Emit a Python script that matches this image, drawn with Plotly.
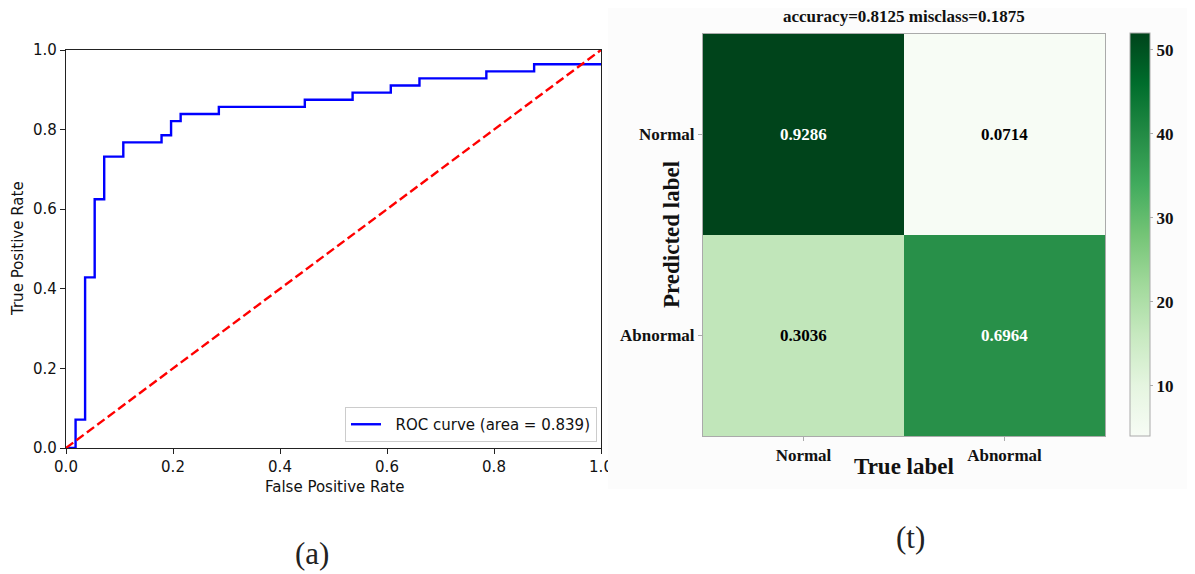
import plotly.graph_objects as go
import plotly.express as px

W, H = 1195, 574
OFF = 8  # page body margin of the host page

# ---------------- data ----------------
roc_fpr = [0.0, 0.0179, 0.0357, 0.0536, 0.0714, 0.1071, 0.1786, 0.1964, 0.2143,
           0.2857, 0.4464, 0.5357, 0.6071, 0.6607, 0.7857, 0.8750, 1.0]
roc_tpr = [0.0, 0.0714, 0.4286, 0.6250, 0.7321, 0.7679, 0.7857, 0.8214, 0.8393,
           0.8571, 0.8750, 0.8929, 0.9107, 0.9286, 0.9464, 0.9643, 0.9643]
chance_x = [0.0, 1.0]
chance_y = [0.0, 1.0]
roc_label = "ROC curve (area = 0.839)"
roc_ticks = [0.0, 0.2, 0.4, 0.6, 0.8, 1.0]

class_labels = ["Normal", "Abnormal"]
cm_counts = [[52, 4],
             [17, 39]]
cm_title = "accuracy=0.8125 misclass=0.1875"
cbar_ticks = [10, 20, 30, 40, 50]
cbar_range = [4, 52]

# ---------------- helpers ----------------
def px_x(p):
    return (p - OFF) / W

def px_y(p):
    return 1 - (p - OFF) / H

SANS = "DejaVu Sans"
SERIF = "Liberation Serif"
FS = 15

fig = go.Figure()

# ROC curve
fig.add_trace(go.Scatter(
    x=roc_fpr, y=roc_tpr, mode="lines", line=dict(color="#0000ff", width=2.4, shape="hv"),
    name="\u00a0\u00a0" + roc_label, xaxis="x", yaxis="y", showlegend=True))
fig.add_trace(go.Scatter(
    x=chance_x, y=chance_y, mode="lines",
    line=dict(color="#ff0000", width=2.4, dash="9px,4px"),
    xaxis="x", yaxis="y", showlegend=False))

# Confusion matrix
thresh = max(max(r) for r in cm_counts) / 2
norm_text = []
for r in cm_counts:
    s = sum(r)
    norm_text.append(["%.4f" % (v / s) for v in r])

greens = px.colors.sequential.Greens
cs = [[i / (len(greens) - 1), c] for i, c in enumerate(greens)]

fig.add_trace(go.Heatmap(
    z=cm_counts, x=class_labels, y=class_labels, xaxis="x2", yaxis="y2",
    colorscale=cs, zmin=cbar_range[0], zmax=cbar_range[1], showscale=True,
    hoverinfo="skip",
    colorbar=dict(
        x=px_x(1130), xanchor="left", xpad=0, ypad=0,
        y=px_y(436), yanchor="bottom", len=(436 - 33) / H, lenmode="fraction",
        thickness=20, thicknessmode="pixels",
        outlinewidth=1, outlinecolor="#aaaaaa",
        tickvals=cbar_ticks, ticks="outside", ticklen=3, tickcolor="#aaaaaa",
        tickfont=dict(family=SERIF, size=17, color="#111111", weight="bold"),
    ),
))

def ann(x, y, text, font, **kw):
    d = dict(x=x, y=y, xref="paper", yref="paper", showarrow=False, text=text,
             xanchor="center", yanchor="middle", font=font)
    d.update(kw)
    return d

annotations = []
for i, row in enumerate(cm_counts):
    for j, v in enumerate(row):
        annotations.append(dict(
            x=class_labels[j], y=class_labels[i], xref="x2", yref="y2",
            xanchor="center", yanchor="middle",
            text="<b>%s</b>" % norm_text[i][j], showarrow=False,
            font=dict(family=SERIF, size=17, color="white" if v > thresh else "black")))

annotations += [
    ann(px_x(904), px_y(17), "<b>%s</b>" % cm_title, dict(family=SERIF, size=17, color="#111111")),
    ann(px_x(904), px_y(466), "<b>True label</b>", dict(family=SERIF, size=23, color="#111111")),
    ann(px_x(672), px_y(235), "<b>Predicted label</b>", dict(family=SERIF, size=23, color="#111111"),
        textangle=-90),
    ann(px_x(18), px_y(249), "True Positive Rate", dict(family=SANS, size=FS, color="#111111"),
        textangle=-90),
    ann(px_x(334), px_y(487), "False Positive Rate", dict(family=SANS, size=FS, color="#111111")),
    ann(px_x(312), px_y(553), "(a)", dict(family=SERIF, size=31, color="#222222")),
    ann(px_x(910), px_y(537), "(t)", dict(family=SERIF, size=31, color="#222222")),
]

shapes = [
    # faint background of the right-hand panel
    dict(type="rect", xref="paper", yref="paper", x0=px_x(608), x1=1, y0=px_y(489), y1=1,
         fillcolor="#fcfcfc", line=dict(width=0), layer="below"),
    # clip the right part of the "1.0" tick label as in the reference
    dict(type="rect", xref="paper", yref="paper", x0=px_x(608), x1=px_x(650), y0=px_y(475), y1=px_y(452),
         fillcolor="#fcfcfc", line=dict(width=0), layer="above"),
]

fig.update_layout(
    width=W, height=H, margin=dict(l=0, r=0, t=0, b=0, pad=0, autoexpand=False),
    paper_bgcolor="white", plot_bgcolor="white",
    showlegend=True,
    legend=dict(x=px_x(597), y=px_y(442), xanchor="right", yanchor="bottom",
                bgcolor="rgba(255,255,255,0.8)", bordercolor="#cccccc", borderwidth=1,
                font=dict(family=SANS, size=FS, color="#111111"),
                itemwidth=30, tracegroupgap=0),
    xaxis=dict(domain=[px_x(66), px_x(601)], anchor="y", range=[0, 1], automargin=False,
               tickvals=roc_ticks, tickformat=".1f", ticks="outside", ticklen=5, tickwidth=1.2,
               tickcolor="#222222", showline=True, linecolor="#222222", linewidth=1.2, mirror=True,
               showgrid=False, zeroline=False,
               tickfont=dict(family=SANS, size=FS, color="#111111")),
    yaxis=dict(domain=[px_y(448), px_y(50)], anchor="x", range=[0, 1], automargin=False,
               tickvals=roc_ticks, tickformat=".1f", ticks="outside", ticklen=5, tickwidth=1.2,
               tickcolor="#222222", showline=True, linecolor="#222222", linewidth=1.2, mirror=True,
               showgrid=False, zeroline=False,
               tickfont=dict(family=SANS, size=FS, color="#111111")),
    xaxis2=dict(domain=[px_x(703), px_x(1105)], anchor="y2", type="category", automargin=False,
                ticks="outside", ticklen=4, tickcolor="#aaaaaa",
                showline=True, linecolor="#aaaaaa", linewidth=1, mirror=True,
                showgrid=False, zeroline=False,
                tickfont=dict(family=SERIF, size=17, color="#111111", weight="bold")),
    yaxis2=dict(domain=[px_y(436), px_y(34)], anchor="x2", type="category", autorange="reversed",
                automargin=False,
                ticks="outside", ticklen=4, tickcolor="#aaaaaa",
                showline=True, linecolor="#aaaaaa", linewidth=1, mirror=True,
                showgrid=False, zeroline=False,
                tickfont=dict(family=SERIF, size=17, color="#111111", weight="bold")),
    annotations=annotations,
    shapes=shapes,
)

fig.write_html("out.html")
